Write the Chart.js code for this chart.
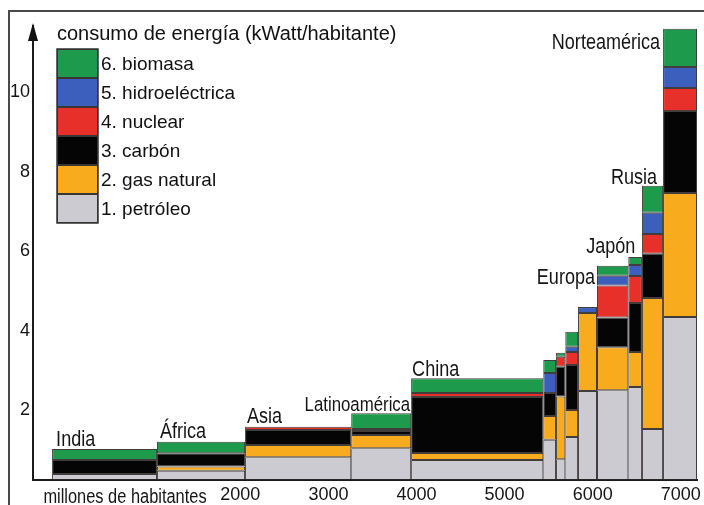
<!DOCTYPE html>
<html><head><meta charset="utf-8">
<script src="https://cdn.jsdelivr.net/npm/chart.js@4.4.0/dist/chart.umd.min.js"></script>
<style>html,body{margin:0;padding:0;background:#fff;}canvas{display:block;}</style>
</head><body>
<canvas id="c" width="704" height="505"></canvas>
<script>
// ---------------- data ----------------
const regions = ['India','África','Asia','Latinoamérica','China','','','','','Europa','Japón','Rusia','Norteamérica'];
const population = [1190, 1000, 1205, 680, 1500, 145, 105, 145, 215, 355, 155, 240, 385]; // millones de habitantes
const petroleo   = [0.15, 0.23, 0.57, 0.80, 0.50, 1.01, 0.52, 1.08, 2.24, 2.26, 2.34, 1.28, 4.10];
const gasNatural = [0.00, 0.11, 0.31, 0.33, 0.18, 0.60, 1.58, 0.68, 1.96, 1.08, 0.88, 3.30, 3.12];
const carbon     = [0.35, 0.33, 0.38, 0.10, 1.41, 0.58, 0.75, 1.13, 0.00, 0.75, 1.23, 1.11, 2.06];
const nuclear    = [0.00, 0.00, 0.08, 0.05, 0.10, 0.00, 0.25, 0.33, 0.00, 0.80, 0.68, 0.50, 0.58];
const hidro      = [0.00, 0.00, 0.00, 0.00, 0.00, 0.50, 0.00, 0.13, 0.15, 0.25, 0.28, 0.53, 0.53];
const biomasa    = [0.28, 0.29, 0.00, 0.40, 0.37, 0.33, 0.10, 0.38, 0.00, 0.25, 0.20, 0.68, 0.96];
const seriesNames = ['1. petróleo','2. gas natural','3. carbón','4. nuclear','5. hidroeléctrica','6. biomasa'];
const xTickValues = [2000, 3000, 4000, 5000, 6000, 7000];
const yTickValues = [2, 4, 6, 8, 10];
const legendTitle = 'consumo de energía (kWatt/habitante)';
const xAxisLabel = 'millones de habitantes';

// ---------------- styles ----------------
const seriesValues = [petroleo, gasNatural, carbon, nuclear, hidro, biomasa];
const seriesColors = ['#cbcbd1', '#f9ab1e', '#050505', '#e8302a', '#3c5fbe', '#1e9a4c'];
const REG = '"Liberation Sans", Arial, sans-serif';
function hasFont(name) {
  const c = document.createElement('canvas').getContext('2d');
  const t = 'mmmwwwlliiABCxyz';
  c.font = '40px monospace';
  const a = c.measureText(t).width;
  c.font = '40px "' + name + '", monospace';
  return Math.abs(c.measureText(t).width - a) > 0.5;
}
const narrowOK = hasFont('Liberation Sans Narrow');
const NARROW = narrowOK ? '"Liberation Sans Narrow", sans-serif' : REG;
const SQUEEZE = narrowOK ? 1 : 0.82;      // horizontal condensing for drawn labels
const TICK_SIZE = narrowOK ? 21 : 18;

// label placement relative to the bar (edge of bar, text alignment, offsets in px from that edge / bar top)
const labelPlace = [
  {edge:'left',  align:'left',  dx: 4, dy:-3, size:22},
  {edge:'left',  align:'left',  dx: 3, dy:-4, size:22},
  {edge:'left',  align:'left',  dx: 2, dy:-4, size:22},
  {edge:'right', align:'right', dx:-1, dy:-2, size:20.5},
  {edge:'left',  align:'left',  dx: 1, dy:-2, size:22},
  null, null, null, null,
  {edge:'left',  align:'right', dx:-2, dy:18, size:22},
  {edge:'left',  align:'right', dx: 7, dy:-4, size:22},
  {edge:'right', align:'right', dx:-6, dy:-2, size:22},
  {edge:'left',  align:'right', dx:-3, dy:20, size:22}
];

const edges = [0];
population.forEach(p => edges.push(edges[edges.length - 1] + p));
const mids = population.map((p, i) => edges[i] + p / 2);

const datasets = seriesNames.map((name, s) => ({
  label: name,
  data: regions.map((r, i) => ({x: mids[i], y: seriesValues[s][i]})),
  backgroundColor: seriesColors[s],
  borderColor: 'rgba(45,40,40,0.9)',
  borderWidth: 1,
  borderSkipped: false,
  stack: 'energia'
}));

const varWidth = {
  id: 'varWidth',
  afterDatasetsUpdate(chart) {
    const xs = chart.scales.x;
    chart.data.datasets.forEach((ds, di) => {
      chart.getDatasetMeta(di).data.forEach((el, i) => {
        const x0 = xs.getPixelForValue(edges[i]);
        const x1 = xs.getPixelForValue(edges[i + 1]);
        el.x = (x0 + x1) / 2;
        el.width = x1 - x0;
      });
    });
  }
};

function squeezedText(ctx, text, x, y, align, font) {
  ctx.save();
  ctx.translate(x, y);
  ctx.scale(SQUEEZE, 1);
  ctx.font = font;
  ctx.textAlign = align;
  ctx.fillText(text, 0, 0);
  ctx.restore();
}

const decorations = {
  id: 'decorations',
  afterDraw(chart) {
    const ctx = chart.ctx;
    const xs = chart.scales.x, ys = chart.scales.y;
    const area = chart.chartArea;
    ctx.save();
    // outer frame
    ctx.strokeStyle = '#4a4a4a';
    ctx.lineWidth = 2;
    ctx.beginPath();
    ctx.moveTo(9, 505); ctx.lineTo(9, 11); ctx.lineTo(704, 11);
    ctx.stroke();
    // arrow on y axis
    ctx.fillStyle = '#111';
    ctx.beginPath();
    ctx.moveTo(area.left, area.top - 3);
    ctx.lineTo(area.left - 5, area.top + 15);
    ctx.lineTo(area.left + 5, area.top + 15);
    ctx.closePath();
    ctx.fill();
    // legend
    ctx.fillStyle = '#111';
    ctx.font = '20px ' + REG;
    ctx.textAlign = 'left';
    ctx.textBaseline = 'alphabetic';
    ctx.fillText(legendTitle, 57, 40);
    const bx = 57, bw = 41, bh = 29, by = 49;
    for (let k = 0; k < seriesNames.length; k++) {
      const s = seriesNames.length - 1 - k;
      const y0 = by + k * bh;
      ctx.fillStyle = seriesColors[s];
      ctx.fillRect(bx, y0, bw, bh);
      ctx.strokeStyle = '#3a3535';
      ctx.lineWidth = 1;
      ctx.strokeRect(bx + 0.5, y0 + 0.5, bw - 1, bh - 1);
      ctx.fillStyle = '#111';
      ctx.font = '19px ' + REG;
      ctx.textBaseline = 'middle';
      ctx.fillText(seriesNames[s], bx + bw + 3, y0 + bh / 2 + 1);
    }
    ctx.strokeStyle = '#333';
    ctx.lineWidth = 1.5;
    ctx.strokeRect(bx, by, bw, bh * seriesNames.length);
    // region labels
    ctx.fillStyle = '#151515';
    ctx.textBaseline = 'alphabetic';
    regions.forEach((name, i) => {
      const p = labelPlace[i];
      if (!name || !p) return;
      let total = 0;
      seriesValues.forEach(v => total += v[i]);
      const top = ys.getPixelForValue(total);
      const ex = xs.getPixelForValue(p.edge === 'left' ? edges[i] : edges[i + 1]);
      squeezedText(ctx, name, ex + p.dx, top + p.dy, p.align, p.size + 'px ' + NARROW);
    });
    // x axis caption
    ctx.fillStyle = '#151515';
    squeezedText(ctx, xAxisLabel, 125, 503, 'center', '20px ' + NARROW);
    ctx.restore();
  }
};

new Chart(document.getElementById('c'), {
  type: 'bar',
  data: {datasets},
  options: {
    responsive: false,
    animation: false,
    events: [],
    layout: {padding: {left: 9, top: 26, right: 7, bottom: 0}},
    plugins: {legend: {display: false}, tooltip: {enabled: false}},
    scales: {
      x: {
        type: 'linear', stacked: true, offset: false, min: -217, max: 7320,
        afterBuildTicks: s => { s.ticks = xTickValues.map(v => ({value: v})); },
        afterFit: s => { s.height = 25; },
        grid: {display: false, drawTicks: false, offset: false},
        border: {display: true, color: '#1a1a1a', width: 2},
        ticks: {font: {family: NARROW, size: TICK_SIZE}, color: '#151515', padding: 4, labelOffset: 12,
                maxRotation: 0, autoSkip: false, callback: v => String(v)}
      },
      y: {
        stacked: true, min: 0, max: 11.42,
        afterBuildTicks: s => { s.ticks = yTickValues.map(v => ({value: v})); },
        afterFit: s => { s.width = 24; },
        grid: {display: false, drawTicks: false},
        border: {display: true, color: '#1a1a1a', width: 2},
        ticks: {font: {family: NARROW, size: TICK_SIZE}, color: '#151515', padding: 3, labelOffset: 10,
                callback: v => String(v)}
      }
    }
  },
  plugins: [varWidth, decorations]
});
</script>
</body></html>
